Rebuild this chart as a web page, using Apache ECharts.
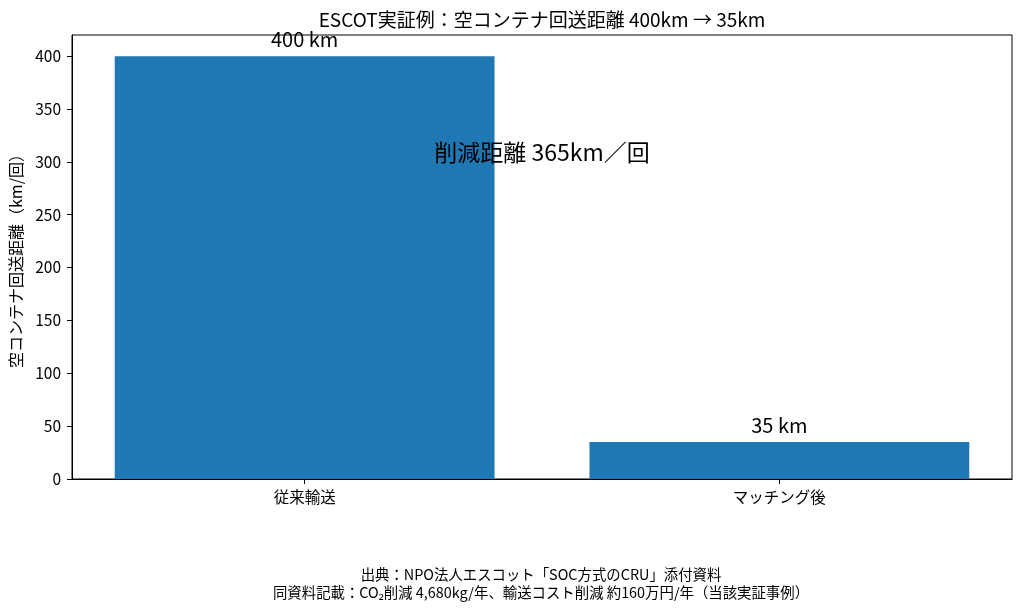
<!DOCTYPE html>
<html lang="ja">
<head>
  <meta charset="UTF-8">
  <title>ESCOT実証例</title>
  <style>
    html, body { margin: 0; padding: 0; background: #fff; }
    #main { width: 1024px; height: 612px; }
  </style>
</head>
<body>
<div id="main"></div>
<script src="https://cdn.jsdelivr.net/npm/echarts@6/dist/echarts.min.js"></script>
<script>
  // data
  var categories = ['従来輸送', 'マッチング後'];
  var distances = [400, 35];
  var yTicks = [0, 50, 100, 150, 200, 250, 300, 350, 400];
  var footerLines = [
    '出典：NPO法人エスコット「SOC方式のCRU」添付資料',
    '同資料記載：CO₂削減 4,680kg/年、輸送コスト削減 約160万円/年（当該実証事例）'
  ];

  var font = '"Noto Sans CJK JP", "Noto Sans", sans-serif';
  var saved = distances[0] - distances[1];

  var chartDom = document.getElementById('main');
  var myChart = echarts.init(chartDom);
  var option = {
    backgroundColor: '#fff',
    animation: false,
    textStyle: { fontFamily: font, color: '#000' },
    grid: {
      left: 72, right: 12, top: 35, bottom: 133,
      show: true, borderColor: '#000', borderWidth: 1
    },
    xAxis: {
      type: 'value',
      min: -0.49,
      max: 1.49,
      splitLine: { show: false },
      axisLine: { onZero: false, lineStyle: { color: '#000', width: 1 } },
      axisTick: { customValues: [0, 1], length: 5, lineStyle: { color: '#000' } },
      axisLabel: {
        customValues: [0, 1],
        formatter: function (v) { return categories[Math.round(v)]; },
        fontSize: 15.5, color: '#000', margin: 10, fontFamily: font
      }
    },
    yAxis: {
      type: 'value',
      min: 0,
      max: 420,
      name: '空コンテナ回送距離（km/回）',
      nameLocation: 'middle',
      nameRotate: 90,
      nameGap: 45,
      nameTextStyle: { fontSize: 16, color: '#000', fontFamily: font },
      splitLine: { show: false },
      axisLine: { show: true, onZero: false, lineStyle: { color: '#000', width: 1 } },
      axisTick: { show: true, customValues: yTicks, length: 5, lineStyle: { color: '#000' } },
      axisLabel: { customValues: yTicks, fontSize: 15.5, color: '#000', margin: 11, fontFamily: font }
    },
    series: [
      {
        type: 'bar',
        barWidth: '80%',
        itemStyle: { color: '#1f77b4' },
        label: {
          show: true,
          position: 'top',
          distance: 7,
          fontSize: 20,
          color: '#000',
          fontFamily: font,
          formatter: function (p) { return p.value[1] + ' km'; }
        },
        data: categories.map(function (c, i) { return [i, distances[i]]; })
      }
    ],
    graphic: [
      {
        type: 'text', x: 542, y: 20, z: 100,
        style: {
          text: 'ESCOT実証例：空コンテナ回送距離 ' + distances[0] + 'km → ' + distances[1] + 'km',
          font: '19px ' + font, fill: '#000', textAlign: 'center', textVerticalAlign: 'middle'
        }
      },
      {
        type: 'text', x: 542, y: 152, z: 100,
        style: {
          text: '削減距離 ' + saved + 'km／回',
          font: '23px ' + font, fill: '#000', textAlign: 'center', textVerticalAlign: 'middle'
        }
      },
      {
        type: 'text', x: 541, y: 575, z: 100,
        style: { text: footerLines[0], font: '14.4px ' + font, fill: '#000', textAlign: 'center', textVerticalAlign: 'middle' }
      },
      {
        type: 'text', x: 541, y: 593, z: 100,
        style: { text: footerLines[1], font: '14.4px ' + font, fill: '#000', textAlign: 'center', textVerticalAlign: 'middle' }
      }
    ]
  };
  myChart.setOption(option);
</script>
</body>
</html>
